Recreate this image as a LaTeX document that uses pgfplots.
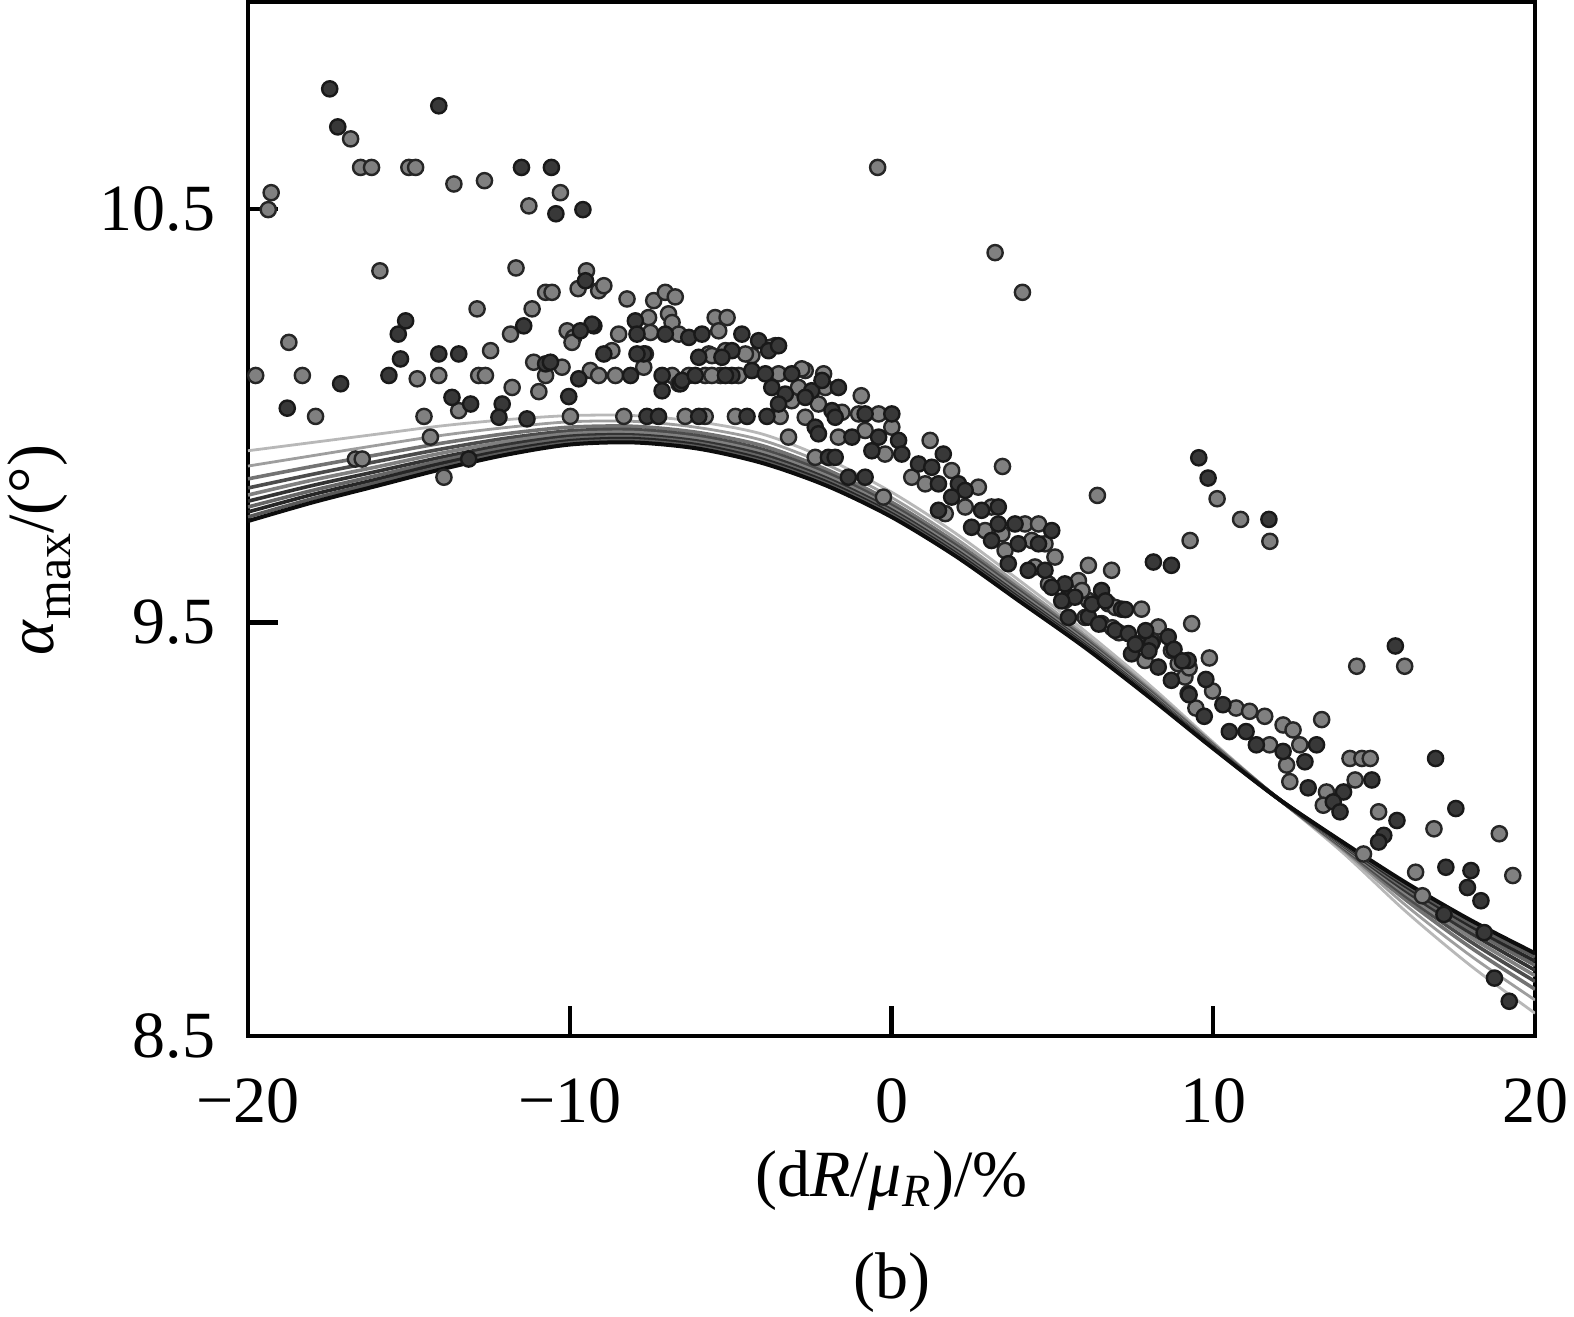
\documentclass[border=0pt]{standalone}
\usepackage{pgfplots}
\pgfplotsset{compat=1.18}
\usepackage{pgfplotstable}
\usepackage{fontspec}
\setmainfont{Liberation Serif}

\pgfplotstableread{
x y
-17.46 10.790
-17.21 10.698
-14.07 10.749
-11.50 10.600
-10.57 10.600
-10.43 10.488
-9.59 10.498
-9.51 10.326
-15.10 10.229
-15.33 10.197
-11.43 10.217
-9.25 10.217
-7.96 10.229
-9.31 10.221
-9.67 10.205
-7.91 10.197
-7.03 10.197
-6.30 10.189
-5.89 10.197
-4.65 10.197
-4.13 10.181
-4.96 10.157
-3.82 10.157
-8.94 10.149
-7.70 10.149
-5.99 10.141
-5.27 10.141
-3.51 10.169
-14.07 10.149
-13.45 10.149
-15.26 10.137
-17.12 10.077
-15.62 10.097
-10.75 10.125
-10.60 10.129
-9.72 10.089
-8.11 10.097
-7.91 10.149
-7.13 10.097
-6.56 10.077
-4.96 10.097
-7.13 10.060
-6.51 10.085
-6.10 10.097
-5.16 10.097
-4.34 10.109
-3.92 10.101
-3.10 10.101
-3.72 10.068
-3.30 10.052
-2.48 10.060
-1.65 10.068
-3.51 10.028
-2.68 10.044
-1.85 10.012
-2.16 10.085
-18.78 10.018
-13.66 10.044
-13.08 10.028
-12.10 10.028
-12.20 9.996
-10.03 10.046
-11.33 9.992
-7.60 9.998
-7.24 9.998
-5.99 9.998
-4.49 9.998
-3.87 9.998
-13.14 9.895
-2.37 9.972
-2.27 9.956
-1.23 9.948
-0.40 9.948
0.22 9.940
-0.61 9.915
0.32 9.907
-0.82 10.004
0.01 10.004
-1.96 9.899
-1.75 9.899
-1.34 9.851
-0.82 9.851
-1.75 9.996
1.61 9.907
0.84 9.883
1.25 9.875
1.46 9.835
2.08 9.835
2.29 9.819
1.87 9.803
1.46 9.771
2.80 9.771
3.32 9.779
2.49 9.730
3.32 9.738
3.84 9.738
4.98 9.722
3.11 9.698
3.63 9.642
3.94 9.690
4.57 9.690
4.25 9.626
4.77 9.626
9.55 9.898
8.14 9.646
8.70 9.638
5.39 9.593
4.98 9.585
5.70 9.561
6.53 9.577
7.15 9.532
6.12 9.513
6.95 9.481
7.36 9.473
8.08 9.449
8.60 9.465
7.46 9.424
8.29 9.392
9.22 9.408
8.70 9.360
5.29 9.552
6.23 9.544
6.65 9.552
7.27 9.531
6.44 9.496
5.50 9.512
7.90 9.480
8.78 9.435
9.04 9.407
8.00 9.431
7.58 9.447
9.77 9.362
9.25 9.325
9.72 9.273
10.30 9.301
10.50 9.236
11.02 9.236
11.34 9.204
13.21 9.204
12.17 9.188
12.85 9.163
14.93 9.119
12.95 9.100
14.05 9.090
13.73 9.066
13.94 9.042
16.91 9.171
15.66 9.443
15.71 9.021
15.30 8.985
15.14 8.969
17.54 9.050
17.23 8.908
18.01 8.900
17.90 8.859
18.32 8.827
17.17 8.794
18.42 8.750
18.74 8.640
19.20 8.584
9.84 9.849
11.73 9.749
}\darkpts

\pgfplotstableread{
x y
-16.81 10.669
-16.50 10.600
-16.16 10.600
-15.00 10.600
-14.79 10.600
-13.60 10.560
-12.65 10.568
-10.29 10.539
-11.27 10.507
-19.28 10.539
-19.37 10.498
-0.43 10.600
3.22 10.394
4.07 10.298
-15.90 10.350
-11.67 10.357
-9.48 10.350
-9.10 10.302
-9.74 10.307
-10.75 10.298
-10.55 10.298
-8.22 10.282
-7.39 10.278
-7.03 10.298
-6.72 10.287
-8.94 10.314
-18.73 10.177
-12.88 10.258
-11.17 10.258
-11.84 10.197
-10.08 10.205
-9.88 10.189
-9.93 10.177
-8.48 10.197
-7.55 10.237
-6.93 10.246
-6.82 10.225
-5.48 10.237
-5.11 10.237
-7.49 10.201
-6.61 10.197
-5.37 10.205
-3.61 10.169
-5.68 10.149
-4.34 10.145
-8.69 10.157
-7.65 10.149
-5.58 10.145
-4.54 10.149
-3.77 10.165
-12.46 10.157
-19.76 10.097
-18.31 10.097
-14.74 10.089
-14.07 10.097
-12.83 10.097
-12.62 10.097
-11.12 10.129
-10.24 10.117
-10.75 10.097
-9.36 10.109
-9.10 10.097
-8.58 10.097
-7.70 10.117
-6.82 10.097
-6.30 10.097
-5.79 10.097
-5.32 10.097
-5.16 10.157
-6.61 10.077
-5.58 10.097
-4.75 10.097
-3.51 10.101
-2.68 10.109
-2.11 10.101
-2.89 10.068
-2.06 10.068
-3.10 10.036
-2.27 10.028
-1.54 10.008
-0.94 10.048
-2.79 10.113
-17.90 9.998
-14.53 9.998
-14.33 9.948
-13.45 10.012
-11.79 10.068
-10.96 10.058
-9.98 9.998
-8.32 9.998
-6.41 9.998
-5.79 9.998
-4.85 9.998
-3.46 9.998
-16.66 9.895
-16.45 9.895
-13.91 9.851
-3.20 9.948
-1.65 9.948
-0.82 9.964
0.01 9.972
-0.20 9.907
-2.37 9.899
-2.68 9.996
-1.02 10.004
-0.40 10.004
-0.25 9.803
1.20 9.940
0.63 9.851
1.05 9.835
1.87 9.867
2.70 9.827
1.67 9.763
2.29 9.779
3.11 9.779
3.45 9.877
2.91 9.722
3.43 9.714
4.15 9.738
4.57 9.738
3.53 9.674
4.36 9.698
4.77 9.690
5.08 9.658
4.46 9.634
6.40 9.807
6.84 9.626
6.12 9.638
9.28 9.698
9.33 9.497
5.81 9.601
6.12 9.553
6.74 9.545
7.77 9.532
5.39 9.553
6.53 9.497
7.67 9.449
8.29 9.489
8.70 9.432
7.88 9.408
8.91 9.400
9.12 9.368
9.22 9.328
4.88 9.593
5.92 9.577
6.96 9.536
6.02 9.512
6.86 9.487
7.07 9.475
9.25 9.390
8.11 9.455
9.88 9.414
9.98 9.334
9.46 9.293
10.71 9.293
11.13 9.285
11.60 9.273
11.75 9.204
12.17 9.252
12.48 9.240
12.69 9.204
12.28 9.155
13.37 9.265
14.25 9.171
14.62 9.171
14.88 9.171
14.41 9.119
12.38 9.115
13.52 9.090
13.42 9.058
15.95 9.394
14.46 9.394
15.14 9.042
14.67 8.940
16.86 9.001
18.89 8.989
16.29 8.896
16.50 8.839
19.31 8.888
10.12 9.799
10.85 9.749
11.76 9.696
}\graypts

\begin{document}
\fontsize{16.5}{19}\selectfont
\begin{tikzpicture}
\begin{axis}[
  name=ax,
  scale only axis,
  width=321.75pt, height=258.5pt,
  xmin=-20, xmax=20, ymin=8.5, ymax=11,
  xtick={-20,-10,0,10,20},
  xticklabels={−20,−10,0,10,20},
  ytick={8.5,9.5,10.5},
  yticklabels={8.5,9.5,10.5},
  tick align=inside,
  xtick pos=bottom, ytick pos=left,
  major tick length=7.5pt,
  axis line style={line width=1.2pt},
  tick style={line width=1.1pt, black},
  xticklabel style={yshift=-5pt},
  yticklabel style={xshift=-2.5pt},
  xlabel={(d\textit{R}/\textit{μ}\textsubscript{\textit{R}})/\%},
  xlabel style={at={(axis description cs:0.5,-0.089)}, anchor=north},
  ylabel={\textit{α}\raisebox{-0.25em}{\fontsize{12.5}{13}\selectfont max}/(°)},
  ylabel style={at={(axis description cs:-0.162,0.47)}, anchor=center},
]
% fitted curves (light to dark)
\addplot[smooth, line width=0.7pt, color=black!28] coordinates {(-20,9.915)(-18,9.935)(-16,9.955)(-14,9.975)(-12,9.99)(-10,10.0)(-8,10.0)(-6,9.985)(-4,9.955)(-2,9.895)(0,9.815)(2,9.715)(4,9.60)(6,9.48)(8,9.35)(10,9.21)(12,9.075)(14,8.945)(16,8.80)(18,8.67)(20,8.555)};
\addplot[smooth, line width=0.7pt, color=black!38] coordinates {(-20,9.878)(-18,9.903)(-16,9.928)(-14,9.952)(-12,9.971)(-10,9.985)(-8,9.986)(-6,9.971)(-4,9.940)(-2,9.881)(0,9.802)(2,9.703)(4,9.589)(6,9.471)(8,9.343)(10,9.207)(12,9.075)(14,8.951)(16,8.815)(18,8.694)(20,8.587)};
\addplot[smooth, line width=0.9pt, color=black!55] coordinates {(-20,9.847)(-18,9.877)(-16,9.905)(-14,9.933)(-12,9.956)(-10,9.972)(-8,9.974)(-6,9.959)(-4,9.927)(-2,9.869)(0,9.791)(2,9.693)(4,9.58)(6,9.464)(8,9.338)(10,9.204)(12,9.075)(14,8.955)(16,8.828)(18,8.714)(20,8.613)};
\addplot[smooth, line width=0.9pt, color=black!70] coordinates {(-20,9.825)(-18,9.858)(-16,9.889)(-14,9.919)(-12,9.945)(-10,9.963)(-8,9.966)(-6,9.951)(-4,9.918)(-2,9.861)(0,9.783)(2,9.686)(4,9.574)(6,9.459)(8,9.334)(10,9.202)(12,9.075)(14,8.958)(16,8.837)(18,8.728)(20,8.632)};
\addplot[smooth, line width=0.9pt, color=black!50] coordinates {(-20,9.808)(-18,9.844)(-16,9.876)(-14,9.909)(-12,9.937)(-10,9.956)(-8,9.959)(-6,9.944)(-4,9.911)(-2,9.854)(0,9.777)(2,9.680)(4,9.569)(6,9.455)(8,9.331)(10,9.201)(12,9.075)(14,8.961)(16,8.844)(18,8.739)(20,8.646)};
\addplot[smooth, line width=0.9pt, color=black!80] coordinates {(-20,9.793)(-18,9.831)(-16,9.865)(-14,9.899)(-12,9.929)(-10,9.950)(-8,9.953)(-6,9.938)(-4,9.905)(-2,9.848)(0,9.772)(2,9.675)(4,9.564)(6,9.451)(8,9.328)(10,9.199)(12,9.075)(14,8.963)(16,8.850)(18,8.749)(20,8.659)};
\addplot[smooth, line width=0.9pt, color=black!60] coordinates {(-20,9.779)(-18,9.819)(-16,9.855)(-14,9.891)(-12,9.922)(-10,9.944)(-8,9.948)(-6,9.933)(-4,9.899)(-2,9.843)(0,9.767)(2,9.671)(4,9.56)(6,9.448)(8,9.326)(10,9.198)(12,9.075)(14,8.965)(16,8.856)(18,8.758)(20,8.671)};
\addplot[smooth, line width=0.9pt, color=black!85] coordinates {(-20,9.767)(-18,9.809)(-16,9.846)(-14,9.884)(-12,9.916)(-10,9.939)(-8,9.944)(-6,9.929)(-4,9.894)(-2,9.839)(0,9.763)(2,9.667)(4,9.557)(6,9.445)(8,9.324)(10,9.197)(12,9.075)(14,8.967)(16,8.861)(18,8.766)(20,8.681)};
\addplot[smooth, line width=0.9pt, color=black!65] coordinates {(-20,9.755)(-18,9.799)(-16,9.838)(-14,9.876)(-12,9.910)(-10,9.934)(-8,9.939)(-6,9.924)(-4,9.889)(-2,9.834)(0,9.759)(2,9.663)(4,9.553)(6,9.442)(8,9.322)(10,9.196)(12,9.075)(14,8.969)(16,8.866)(18,8.773)(20,8.691)};
\addplot[smooth, line width=1.0pt, color=black!95] coordinates {(-20,9.745)(-18,9.79)(-16,9.83)(-14,9.87)(-12,9.905)(-10,9.93)(-8,9.935)(-6,9.92)(-4,9.885)(-2,9.83)(0,9.755)(2,9.66)(4,9.55)(6,9.44)(8,9.32)(10,9.195)(12,9.075)(14,8.97)(16,8.87)(18,8.78)(20,8.70)};
% scatter points
\addplot[only marks, mark=*, mark size=1.9pt, mark options={draw=black!85, fill=black!50, line width=0.6pt}] table[x=x, y=y] {\graypts};
\addplot[only marks, mark=*, mark size=1.9pt, mark options={draw=black!90, fill=black!78, line width=0.6pt}] table[x=x, y=y] {\darkpts};
\end{axis}
\node[anchor=north, inner sep=0pt] at ([yshift=-54pt]ax.south) {(b)};
\pgfresetboundingbox
\path[use as bounding box] (-62pt,-70.25pt) rectangle (331.5pt,259pt);
\end{tikzpicture}
\end{document}
